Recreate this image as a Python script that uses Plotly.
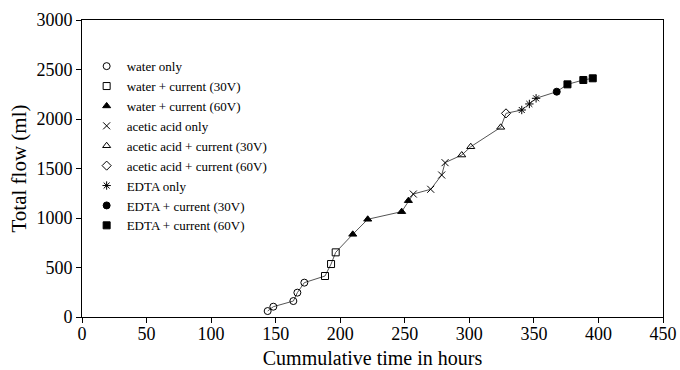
import plotly.graph_objects as go

groups = ["water only", "water + current (30V)", "water + current (60V)",
          "acetic acid only", "acetic acid + current (30V)", "acetic acid + current (60V)",
          "EDTA only", "EDTA + current (30V)", "EDTA + current (60V)"]
symbols = ["circle-open", "square-open", "triangle-up", "x-thin-open",
           "triangle-up-open", "diamond-open", "asterisk-open", "circle", "square"]

water_x = [143.8, 148.2, 163.7, 166.8, 172.2]
water_y = [60, 104, 161, 246, 347]
water30_x = [188.2, 192.9, 196.5]
water30_y = [414, 535, 653]
water60_x = [209.7, 221.3, 247.6, 252.8]
water60_y = [835, 987, 1064, 1175]
acetic_x = [256.6, 270.1, 278.6, 281.2]
acetic_y = [1242, 1290, 1434, 1559]
acetic30_x = [294.1, 301.1, 324.3]
acetic30_y = [1636, 1720, 1916]
acetic60_x = [328.4]
acetic60_y = [2057]
edta_x = [340.6, 346.5, 351.7]
edta_y = [2091, 2152, 2209]
edta30_x = [367.7]
edta30_y = [2276]
edta60_x = [376.0, 388.3, 395.6]
edta60_y = [2350, 2394, 2411]

xs = [water_x, water30_x, water60_x, acetic_x, acetic30_x, acetic60_x, edta_x, edta30_x, edta60_x]
ys = [water_y, water30_y, water60_y, acetic_y, acetic30_y, acetic60_y, edta_y, edta30_y, edta60_y]

all_x = [v for g in xs for v in g]
all_y = [v for g in ys for v in g]

fig = go.Figure()
fig.add_trace(go.Scatter(x=all_x, y=all_y, mode="lines",
                         line=dict(color="#555555", width=1), showlegend=False, hoverinfo="skip"))
for name, sym, gx, gy in zip(groups, symbols, xs, ys):
    fig.add_trace(go.Scatter(x=gx, y=gy, mode="markers", name=name,
                             marker=dict(symbol=sym, size=7, color="black",
                                         line=dict(color="black", width=1))))

fig.update_layout(
    width=680, height=370,
    margin=dict(l=82, r=17, t=20, b=53),
    paper_bgcolor="white", plot_bgcolor="white",
    font=dict(family="Liberation Serif", color="black"),
    showlegend=True,
    legend=dict(x=0.008, y=0.895, xanchor="left", yanchor="top",
                font=dict(size=13, family="Liberation Serif"),
                bgcolor="rgba(0,0,0,0)", itemwidth=30, tracegroupgap=0),
    xaxis=dict(range=[0, 450], tickvals=list(range(0, 451, 50)), automargin=False,
               showgrid=False, zeroline=False, showline=True, linecolor="black",
               linewidth=1, mirror=True, ticks="outside", ticklen=5, tickcolor="black",
               tickfont=dict(size=18), ticklabelstandoff=-5,
               title=dict(text="Cummulative time in hours", font=dict(size=20), standoff=8)),
    yaxis=dict(range=[0, 3000], tickvals=list(range(0, 3001, 500)), automargin=False,
               showgrid=False, zeroline=False, showline=True, linecolor="black",
               linewidth=1, mirror=True, ticks="outside", ticklen=5, tickcolor="black",
               tickfont=dict(size=18),
               title=dict(text="Total flow (ml)", font=dict(size=21), standoff=4)),
)

fig.write_html("out.html")
